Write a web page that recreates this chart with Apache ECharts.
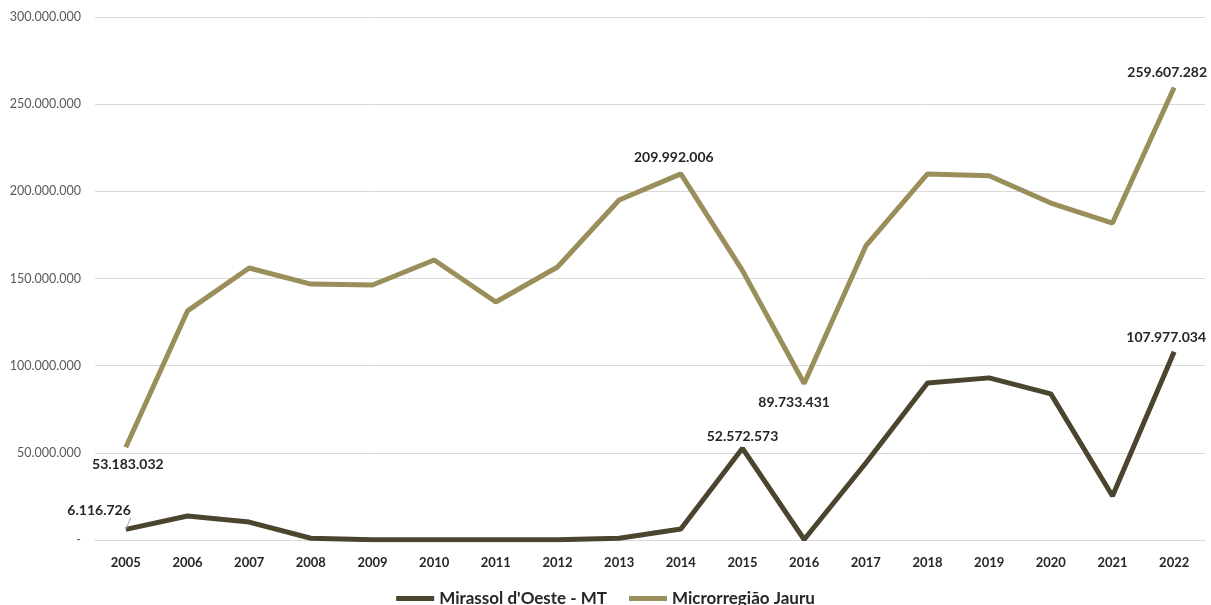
<!DOCTYPE html>
<html><head><meta charset="utf-8">
<script src="https://cdn.jsdelivr.net/npm/echarts@6/dist/echarts.min.js"></script>
<style>html,body{margin:0;padding:0;background:#fff}#c{width:1211px;height:605px}</style>
</head><body><div id="c"></div>
<script>
const years = ['2005','2006','2007','2008','2009','2010','2011','2012','2013','2014','2015','2016','2017','2018','2019','2020','2021','2022'];
const mirassol = [6116726, 13800000, 10300000, 1000000, 200000, 100000, 100000, 200000, 1000000, 6300000, 52572573, 300000, 44200000, 90100000, 93000000, 83800000, 25200000, 107977034];
const jauru = [53183032, 131400000, 156000000, 146800000, 146300000, 160600000, 136500000, 156600000, 195000000, 209992006, 154500000, 89733431, 168700000, 210000000, 208900000, 193300000, 181800000, 259607282];
const seriesNames = ["Mirassol d'Oeste - MT", "Microrregião Jauru"];
const yTicks = [0, 50000000, 100000000, 150000000, 200000000, 250000000, 300000000];

function fmt(v){ if(v===0) return '-'; return String(Math.round(v)).replace(/\B(?=(\d{3})+(?!\d))/g,'.'); }
const font = 'Lato, "Open Sans", sans-serif';
const lblBase = {show:true, fontFamily:font, fontWeight:'bold', fontSize:14, color:'#262626', formatter:p=>fmt(p.value)};

const mirLabels = {0:{position:'left', offset:[10,-19]}, 10:{position:'top', offset:[0,0]}, 17:{position:'top', offset:[-8,-2]}};
const jauLabels = {0:{position:'bottom', offset:[2,5]}, 9:{position:'top', offset:[-7,-4]}, 11:{position:'bottom', offset:[-10,7]}, 17:{position:'top', offset:[-7,-3]}};

const mirData = mirassol.map((v,i)=>{
  const o={value:v};
  if(mirLabels[i]) o.label=Object.assign({}, lblBase, mirLabels[i]);
  if(i===0){ o.labelLine={show:true, lineStyle:{color:'#a6a6a6', width:1}}; }
  return o;
});
const jauData = jauru.map((v,i)=>{
  const o={value:v};
  if(jauLabels[i]) o.label=Object.assign({}, lblBase, jauLabels[i]);
  return o;
});

const chart = echarts.init(document.getElementById('c'));
chart.setOption({
  animation:false,
  grid:{left:95, right:6, top:17, bottom:65, containLabel:false},
  legend:{bottom:-7, left:'center', itemWidth:38, itemHeight:5, itemGap:22,
    textStyle:{fontFamily:font, fontWeight:'bold', fontSize:17, color:'#262626'},
    icon:'rect', data:seriesNames},
  xAxis:{type:'category', data:years, boundaryGap:true,
    axisLine:{show:true, lineStyle:{color:'#d9d9d9'}}, axisTick:{show:false},
    axisLabel:{fontFamily:font, fontWeight:'bold', fontSize:13, color:'#262626', margin:16}},
  yAxis:{type:'value', min:0, max:300000000, interval:50000000,
    axisLine:{show:false}, axisTick:{show:false},
    splitLine:{lineStyle:{color:'#d9d9d9', width:1}},
    axisLabel:{fontFamily:font, fontSize:12.5, color:'#595959', margin:14, formatter:v=>fmt(v)}},
  series:[
    {name:seriesNames[0], type:'line', data:mirData, symbol:'circle', symbolSize:0, showSymbol:true,
      lineStyle:{color:'#4b4530', width:5}, itemStyle:{color:'#4b4530'}, z:3,
      label:{show:false}},
    {name:seriesNames[1], type:'line', data:jauData, symbol:'circle', symbolSize:0, showSymbol:true,
      lineStyle:{color:'#9a8f5b', width:5}, itemStyle:{color:'#9a8f5b'}, z:2,
      label:{show:false}}
  ]
});
</script></body></html>
